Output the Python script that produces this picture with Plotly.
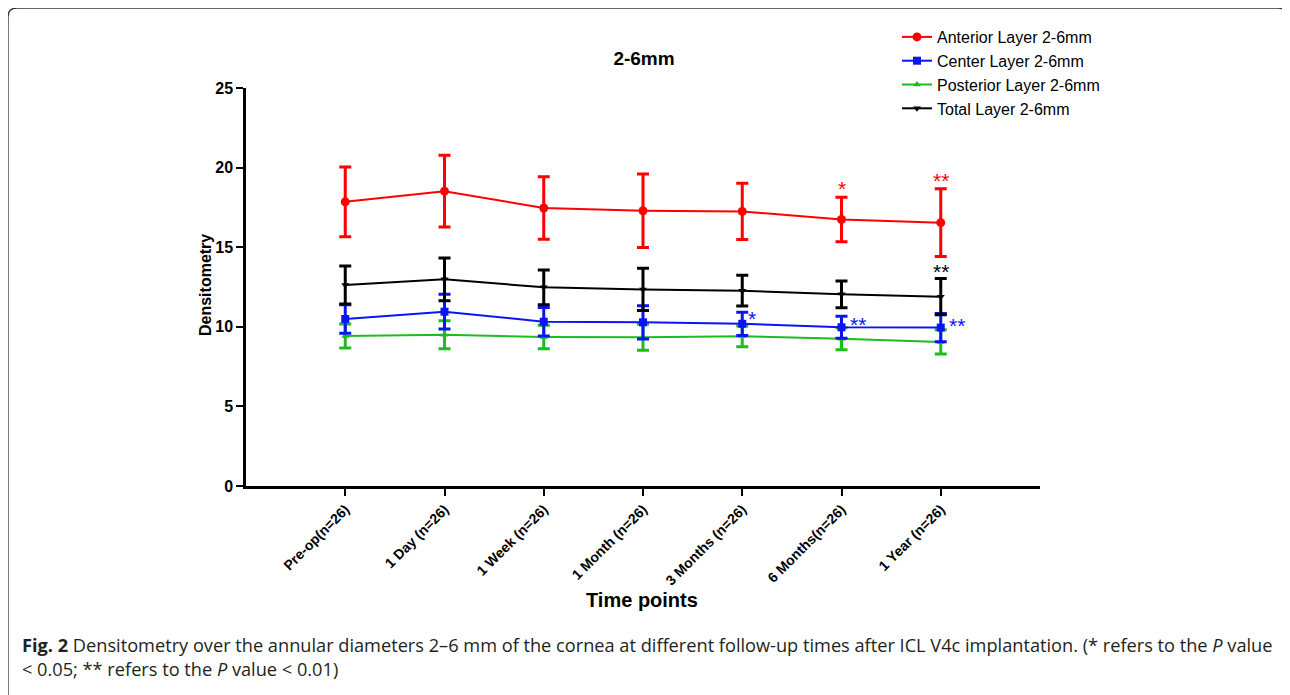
import plotly.graph_objects as go

categories = ["Pre-op(n=26)", "1 Day (n=26)", "1 Week (n=26)", "1 Month (n=26)",
              "3 Months (n=26)", "6 Months(n=26)", "1 Year (n=26)"]

anterior_mean = [17.85, 18.52, 17.46, 17.29, 17.25, 16.74, 16.54]
anterior_sd = [2.19, 2.25, 1.96, 2.31, 1.76, 1.39, 2.13]
center_mean = [10.49, 10.95, 10.32, 10.28, 10.19, 9.97, 9.95]
center_sd = [0.90, 1.09, 0.90, 1.05, 0.73, 0.69, 0.89]
posterior_mean = [9.42, 9.50, 9.36, 9.34, 9.40, 9.25, 9.05]
posterior_sd = [0.75, 0.88, 0.74, 0.82, 0.65, 0.69, 0.76]
total_mean = [12.63, 12.98, 12.48, 12.35, 12.27, 12.04, 11.89]
total_sd = [1.19, 1.34, 1.09, 1.33, 0.97, 0.84, 1.14]

series = [
    ("Posterior Layer 2-6mm", posterior_mean, posterior_sd, "#1dbd1d", "triangle-up", 7),
    ("Center Layer 2-6mm", center_mean, center_sd, "#0a14f5", "square", 8),
    ("Total Layer 2-6mm", total_mean, total_sd, "#000000", "triangle-down", 7),
    ("Anterior Layer 2-6mm", anterior_mean, anterior_sd, "#ff0000", "circle", 9),
]
legend_rank = {"Anterior Layer 2-6mm": 1, "Center Layer 2-6mm": 2,
               "Posterior Layer 2-6mm": 3, "Total Layer 2-6mm": 4}

# page offset (browser body margin) and plot-area geometry in figure pixels
OFF = 8
L, T, W, H = 238, 80, 794, 398


def px(xpage):
    return (xpage - OFF - L) / W


def py(ypage):
    return (T + H - (ypage - OFF)) / H


x_idx = list(range(len(categories)))

fig = go.Figure()
for name, m, sd, col, sym, sz in series:
    fig.add_trace(go.Scatter(
        x=x_idx, y=m, name=name, mode="lines+markers",
        line=dict(color=col, width=2),
        marker=dict(color=col, symbol=sym, size=sz),
        error_y=dict(type="data", array=sd, visible=True, color=col,
                     thickness=3, width=6),
        legendrank=legend_rank[name],
    ))

# significance marks: (text, category index, y value, colour, xshift px)
sig_marks = [
    ("*", 5, 18.7, "#ff0000", 0),
    ("**", 6, 19.2, "#ff0000", 0),
    ("**", 6, 13.5, "#000000", 0),
    ("*", 4, 10.5, "#0a14f5", 10),
    ("**", 5, 10.15, "#0a14f5", 16),
    ("**", 6, 10.1, "#0a14f5", 16),
]
for txt, xi, yv, col, xs in sig_marks:
    fig.add_annotation(x=xi, y=yv, text=txt, showarrow=False, xshift=xs,
                       font=dict(family="Liberation Sans", size=21, color=col),
                       xref="x", yref="y")

# axis titles
fig.add_annotation(xref="paper", yref="paper", x=px(642), y=py(600),
                   xanchor="center", yanchor="middle", showarrow=False,
                   text="<b>Time points</b>",
                   font=dict(family="Liberation Sans", size=20, color="black"))
fig.add_annotation(xref="paper", yref="paper", x=px(205), y=py(285),
                   xanchor="center", yanchor="middle", showarrow=False, textangle=-90,
                   text="<b>Densitometry</b>",
                   font=dict(family="Liberation Sans", size=16, color="black"))

fig.add_annotation(
    xref="paper", yref="paper", x=px(20), y=py(631),
    xanchor="left", yanchor="top", align="left", showarrow=False,
    text=("<b>Fig. 2</b> Densitometry over the annular diameters 2–6 mm of the cornea at different "
          "follow-up times after ICL V4c implantation. (* refers to the <i>P</i> value<br>"
          "&lt; 0.05; ** refers to the <i>P</i> value &lt; 0.01)"),
    font=dict(family="Open Sans", size=18.2, color="#231f20"),
)

# frame around figure (rounded top corners, open at bottom)
fx0, fx1, fy0, fyb = px(8), px(1287), py(8), py(720)
cx, cy = 9 / W, 9 / H
fig.add_shape(type="path", xref="paper", yref="paper",
              path="M %f %f L %f %f Q %f %f %f %f L %f %f Q %f %f %f %f L %f %f" % (
                  fx0, fyb, fx0, fy0 - cy,
                  fx0, fy0, fx0 + cx, fy0,
                  fx1 - cx, fy0,
                  fx1, fy0, fx1, fy0 - cy,
                  fx1, fyb),
              line=dict(color="#333333", width=1.3))

fig.update_layout(
    width=1290, height=695,
    margin=dict(l=L, r=1290 - L - W, t=T, b=695 - T - H),
    paper_bgcolor="white", plot_bgcolor="white",
    title=dict(text="<b>2-6mm</b>", x=(644 - OFF) / 1290, xanchor="center",
               y=1 - (58 - OFF) / 695, yanchor="middle",
               font=dict(family="Liberation Sans", size=19, color="black")),
    font=dict(family="Liberation Sans", color="black"),
    showlegend=True,
    legend=dict(x=px(897), y=py(20), xanchor="left", yanchor="top",
                font=dict(family="Liberation Sans", size=16, color="black"),
                bgcolor="rgba(0,0,0,0)", tracegroupgap=0, itemwidth=30),
    xaxis=dict(range=[-1, 7], tickmode="array", tickvals=x_idx,
               ticktext=["<b>%s</b>" % c for c in categories], tickangle=-45,
               showline=True, linecolor="black", linewidth=2.5,
               ticks="outside", ticklen=7, tickwidth=2, tickcolor="black",
               showgrid=False, zeroline=False,
               tickfont=dict(family="Liberation Sans", size=14, color="black")),
    yaxis=dict(range=[0, 25], tickvals=[0, 5, 10, 15, 20, 25],
               ticktext=["<b>%d</b>" % v for v in [0, 5, 10, 15, 20, 25]],
               showline=True, linecolor="black", linewidth=2.5,
               ticks="outside", ticklen=7, tickwidth=2, tickcolor="black",
               showgrid=False, zeroline=False,
               tickfont=dict(family="Liberation Sans", size=16, color="black")),
)

fig.write_html("out.html")
